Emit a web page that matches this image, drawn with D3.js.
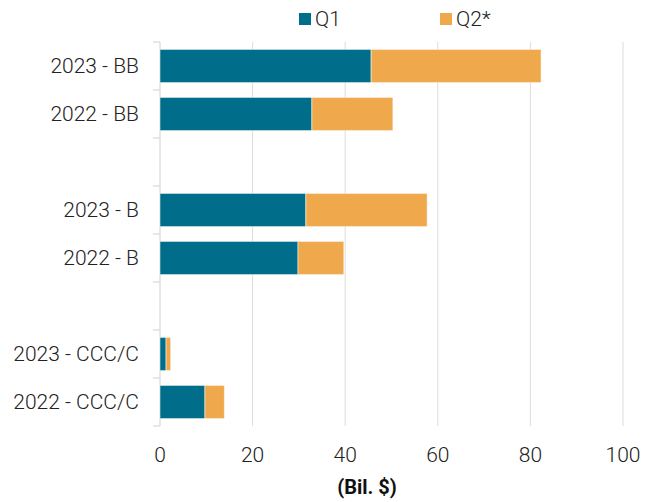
<!DOCTYPE html>
<html>
<head>
<meta charset="utf-8">
<script src="https://cdn.jsdelivr.net/npm/d3@7"></script>
<style>
  body { margin: 0; background: #fff; }
  svg text { font-family: Roboto, "Noto Sans", sans-serif; }
</style>
</head>
<body>
<script>
// chart values
var categories = ["2023 - BB", "2022 - BB", "gap1", "2023 - B", "2022 - B", "gap2", "2023 - CCC/C", "2022 - CCC/C"];
var q1Values = [45.6, 32.8, null, 31.5, 29.8, null, 1.3, 9.7];
var q2Values = [36.7, 17.5, null, 26.2, 9.9, null, 1.0, 4.2];
var seriesNames = ["Q1", "Q2*"];
var xTicks = [0, 20, 40, 60, 80, 100];

var colors = {"Q1": "#006e8a", "Q2*": "#f0a84c"};

var width = 659, height = 502;
var margin = {top: 42, right: 36, bottom: 76, left: 160};
var w = width - margin.left - margin.right;
var h = height - margin.top - margin.bottom;

var svg = d3.select("body").append("svg")
    .attr("width", width)
    .attr("height", height);

var g = svg.append("g")
    .attr("transform", "translate(" + margin.left + "," + margin.top + ")");

var xScale = d3.scaleLinear().domain([0, 100]).range([0, w]);
var yScale = d3.scaleBand().domain(categories).range([0, h]).paddingInner(0.31).paddingOuter(0.155);

// gridlines
g.selectAll(".grid")
  .data(xTicks.slice(1))
  .enter().append("line")
    .attr("class", "grid")
    .attr("x1", function(d) { return xScale(d); })
    .attr("x2", function(d) { return xScale(d); })
    .attr("y1", 0)
    .attr("y2", h)
    .attr("stroke", "#dcdcdc")
    .attr("stroke-width", 1);

// y axis line and ticks on band boundaries
var boundaries = d3.range(categories.length + 1).map(function(i) { return i * h / categories.length; });
g.append("line")
  .attr("x1", 0).attr("x2", 0).attr("y1", 0).attr("y2", h)
  .attr("stroke", "#d0d0d0");
g.selectAll(".ytick")
  .data(boundaries)
  .enter().append("line")
    .attr("class", "ytick")
    .attr("x1", -7).attr("x2", 0)
    .attr("y1", function(d) { return d; })
    .attr("y2", function(d) { return d; })
    .attr("stroke", "#d0d0d0");

// stacked bars
var rows = categories.map(function(c, i) {
  return {cat: c, Q1: q1Values[i], "Q2*": q2Values[i]};
}).filter(function(d) { return d.Q1 !== null; });

var stack = d3.stack().keys(seriesNames)(rows);

g.selectAll(".series")
  .data(stack)
  .enter().append("g")
    .attr("class", "series")
    .attr("fill", function(d) { return colors[d.key]; })
  .selectAll("rect")
  .data(function(d) { return d; })
  .enter().append("rect")
    .attr("x", function(d) { return xScale(d[0]); })
    .attr("y", function(d) { return yScale(d.data.cat); })
    .attr("width", function(d) { return xScale(d[1]) - xScale(d[0]); })
    .attr("height", yScale.bandwidth())
    .attr("stroke", "#ffffff")
    .attr("stroke-opacity", 0.5)
    .attr("stroke-width", 1);

// y labels
g.selectAll(".ylabel")
  .data(categories.filter(function(c) { return c.indexOf("gap") !== 0; }))
  .enter().append("text")
    .attr("class", "ylabel")
    .attr("x", -21)
    .attr("y", function(d) { return yScale(d) + yScale.bandwidth() / 2; })
    .attr("dy", "0.35em")
    .attr("text-anchor", "end")
    .attr("font-size", 21)
    .attr("font-weight", 300)
    .attr("fill", "#222")
    .text(function(d) { return d; });

// x tick labels
g.selectAll(".xlabel")
  .data(xTicks)
  .enter().append("text")
    .attr("class", "xlabel")
    .attr("x", function(d) { return xScale(d); })
    .attr("y", h + 36)
    .attr("text-anchor", "middle")
    .attr("font-size", 21)
    .attr("font-weight", 300)
    .attr("fill", "#222")
    .text(function(d) { return d; });

// x axis title
svg.append("text")
  .attr("x", 367)
  .attr("y", 494)
  .attr("text-anchor", "middle")
  .attr("font-size", 20)
  .attr("font-weight", 700)
  .attr("fill", "#111")
  .text("(Bil. $)");

// legend
var legendX = [299, 440];
var legend = svg.selectAll(".legend")
  .data(seriesNames)
  .enter().append("g")
    .attr("class", "legend")
    .attr("transform", function(d, i) { return "translate(" + legendX[i] + ",13)"; });
legend.append("rect")
  .attr("width", 12).attr("height", 12)
  .attr("fill", function(d) { return colors[d]; });
legend.append("text")
  .attr("x", 16)
  .attr("y", 6)
  .attr("dy", "0.35em")
  .attr("font-size", 21)
  .attr("font-weight", 300)
  .attr("fill", "#222")
  .text(function(d) { return d; });
</script>
</body>
</html>
